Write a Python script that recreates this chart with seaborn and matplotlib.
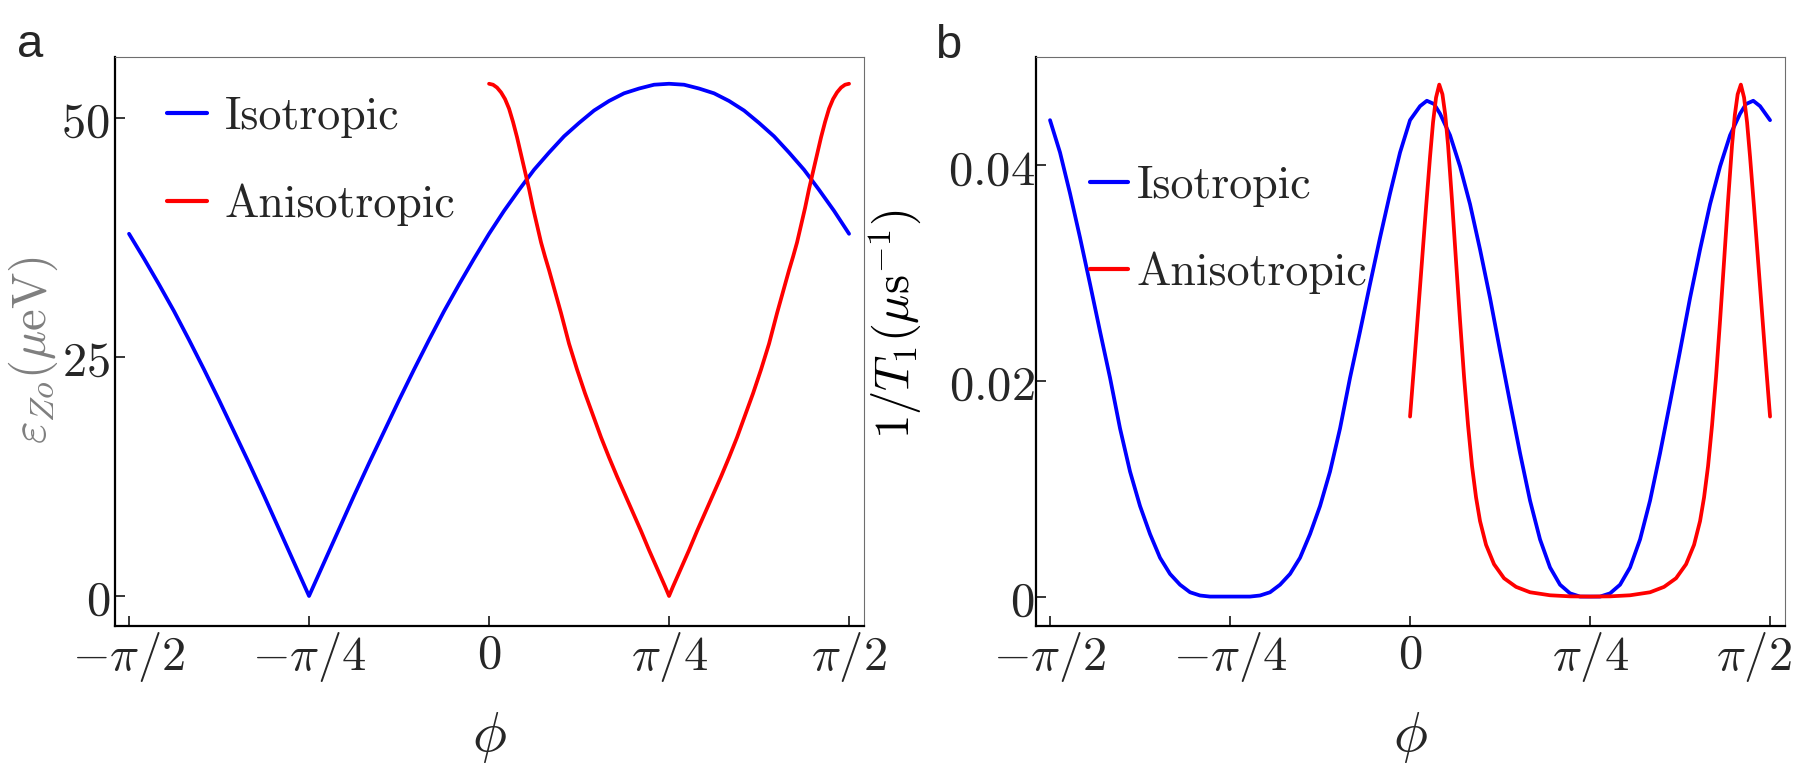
import numpy as np
import pandas as pd
import seaborn as sns
import matplotlib
matplotlib.use('Agg')
import matplotlib.pyplot as plt
from matplotlib.transforms import ScaledTranslation

# ---- data (phi in degrees) ----
# panel a: epsilon_Zo (ueV)
phi_a_iso = [-90, -86.25, -82.5, -78.75, -75, -71.25, -67.5, -63.75, -60, -56.25, -52.5, -48.75,
             -45, -41.25, -37.5, -33.75, -30, -26.25, -22.5, -18.75, -15, -11.25, -7.5, -3.75,
             0, 3.75, 7.5, 11.25, 15, 18.75, 22.5, 26.25, 30, 33.75, 37.5, 41.25,
             45, 48.75, 52.5, 56.25, 60, 63.75, 67.5, 71.25, 75, 78.75, 82.5, 86.25, 90]
eps_iso = [37.9, 35.3, 32.6, 29.8, 26.8, 23.7, 20.5, 17.2, 13.9, 10.5, 7.0, 3.5,
           0.0, 3.5, 7.0, 10.5, 13.9, 17.2, 20.5, 23.7, 26.8, 29.8, 32.6, 35.3,
           37.9, 40.3, 42.5, 44.6, 46.4, 48.1, 49.5, 50.8, 51.8, 52.6, 53.1, 53.5,
           53.6, 53.5, 53.1, 52.6, 51.8, 50.8, 49.5, 48.1, 46.4, 44.6, 42.5, 40.3, 37.9]
phi_a_aniso = [0, 1, 2, 3, 4, 5, 6, 7, 8, 9, 10, 11, 12, 13, 14, 15, 16, 18, 20, 22, 24, 26,
               28, 30, 32, 34, 36, 38, 40, 42, 44, 45,
               46, 48, 50, 52, 54, 56, 58, 60, 62, 64, 66, 68, 70, 72, 74, 75, 76, 77, 78, 79,
               80, 81, 82, 83, 84, 85, 86, 87, 88, 89, 90]
eps_aniso = [53.6, 53.5, 53.2, 52.7, 52.0, 51.0, 49.6, 48.0, 46.2, 44.4, 42.6, 40.6, 38.8,
             37.0, 35.5, 34.1, 32.6, 29.6, 26.4, 23.7, 21.2, 18.9, 16.6, 14.5, 12.5, 10.6,
             8.7, 6.8, 4.8, 2.9, 1.0, 0.0,
             1.0, 2.9, 4.8, 6.8, 8.7, 10.6, 12.5, 14.5, 16.6, 18.9, 21.2, 23.7, 26.4, 29.6,
             32.6, 34.1, 35.5, 37.0, 38.8, 40.6, 42.6, 44.4, 46.2, 48.0, 49.6, 51.0, 52.0,
             52.7, 53.2, 53.5, 53.6]

# panel b: 1/T1 (1/us)
phi_b_iso = [-90, -87.5, -85, -82.5, -80, -77.5, -75, -72.5, -70, -67.5, -65, -62.5, -60,
             -57.5, -55, -52.5, -50, -47.5, -45, -42.5, -40, -37.5, -35, -32.5, -30, -27.5,
             -25, -22.5, -20, -17.5, -15, -12.5, -10, -7.5, -5, -2.5,
             0, 2.5, 4.2, 6, 7.5, 10, 12.5, 15, 17.5, 20, 22.5, 25, 27.5, 30, 32.5, 35, 37.5,
             40, 42.5, 45, 47.5, 50, 52.5, 55, 57.5, 60, 62.5, 65, 67.5, 70, 72.5, 75, 77.5,
             80, 82.5, 84, 85.8, 87.5, 90]
rate_iso = [0.0442, 0.0412, 0.0374, 0.0333, 0.0290, 0.0246, 0.0203, 0.0156, 0.0116, 0.0084,
            0.0058, 0.0036, 0.0021, 0.0011, 0.0004, 0.0001, 0.0, 0.0, 0.0, 0.0, 0.0, 0.0001,
            0.0004, 0.0011, 0.0021, 0.0036, 0.0058, 0.0084, 0.0116, 0.0156, 0.0203, 0.0246,
            0.0290, 0.0333, 0.0374, 0.0412,
            0.0442, 0.0455, 0.0460, 0.0457, 0.0448, 0.0428, 0.0399, 0.0364, 0.0322, 0.0277,
            0.0228, 0.0180, 0.0133, 0.0089, 0.0053, 0.0027, 0.0011, 0.0003, 0.0, 0.0,
            0.0, 0.0003, 0.0011, 0.0027, 0.0053, 0.0089, 0.0133, 0.0180, 0.0228, 0.0277,
            0.0322, 0.0364, 0.0399, 0.0428, 0.0448, 0.0457, 0.0460, 0.0455, 0.0442]
phi_b_aniso = [0, 1, 2, 3, 4, 5, 5.75, 6.5, 7.3, 8.1, 8.8, 9.5, 10.5, 11.5, 12.5, 13.5, 14.5,
               15.5, 16.5, 17.5, 19, 21, 23.5, 26.5, 30, 35, 40, 45,
               50, 55, 60, 63.5, 66.5, 69, 71, 72.5, 73.5, 74.5, 75.5, 76.5, 77.5, 78.5, 79.5,
               80.5, 81.2, 81.9, 82.7, 83.5, 84.25, 85, 86, 87, 88, 89, 90]
rate_aniso = [0.0167, 0.0214, 0.0263, 0.0312, 0.0361, 0.0408, 0.0440, 0.0463, 0.0475, 0.0466,
              0.0447, 0.0419, 0.0367, 0.0311, 0.0256, 0.0204, 0.0159, 0.0121, 0.0092, 0.0070,
              0.0048, 0.0030, 0.0017, 0.0009, 0.0004, 0.00012, 0.00002, 0.0,
              0.00002, 0.00012, 0.0004, 0.0009, 0.0017, 0.0030, 0.0048, 0.0070, 0.0092,
              0.0121, 0.0159, 0.0204, 0.0256, 0.0311, 0.0367, 0.0419, 0.0447, 0.0466, 0.0475,
              0.0463, 0.0440, 0.0408, 0.0361, 0.0312, 0.0263, 0.0214, 0.0167]

labels = ['Isotropic', 'Anisotropic']
colors = {'Isotropic': '#0000ff', 'Anisotropic': '#ff0000'}
x_ticks = [-np.pi / 2, -np.pi / 4, 0, np.pi / 4, np.pi / 2]
x_ticklabels = [r'$-\pi/2$', r'$-\pi/4$', r'$0$', r'$\pi/4$', r'$\pi/2$']
a_yticks = [0, 25, 50]
a_yticklabels = [r'$0$', r'$25$', r'$50$']
b_yticks = [0, 0.02, 0.04]
b_yticklabels = [r'$0$', r'$0.02$', r'$0.04$']


def make_df(phi_iso, y_iso, phi_an, y_an):
    d1 = pd.DataFrame({'phi': np.deg2rad(phi_iso), 'value': y_iso, 'model': labels[0]})
    d2 = pd.DataFrame({'phi': np.deg2rad(phi_an), 'value': y_an, 'model': labels[1]})
    return pd.concat([d1, d2], ignore_index=True)


sns.set_style('white')
plt.rcParams['mathtext.fontset'] = 'cm'
plt.rcParams['font.family'] = ['DejaVu Sans']

fig = plt.figure(figsize=(18.03, 7.69), dpi=100)
W, H = 1803, 769
ax_a = fig.add_axes([115 / W, 1 - 626 / H, 749 / W, 569 / H])
ax_b = fig.add_axes([1036 / W, 1 - 626 / H, 749 / W, 569 / H])

df_a = make_df(phi_a_iso, eps_iso, phi_a_aniso, eps_aniso)
df_b = make_df(phi_b_iso, rate_iso, phi_b_aniso, rate_aniso)

for ax, df in [(ax_a, df_a), (ax_b, df_b)]:
    sns.lineplot(data=df, x='phi', y='value', hue='model', hue_order=labels,
                 palette=colors, estimator=None, sort=False, lw=2.7, ax=ax)
    for line in ax.lines:
        line.set_solid_joinstyle('round')
    ax.set_xlim(-1.632, 1.636)
    ax.set_xticks(x_ticks)
    ax.set_xticklabels(x_ticklabels)
    ax.tick_params(axis='both', which='major', direction='in', length=7.2, width=1.1,
                   color='black', labelsize=35, bottom=True, left=True)
    ax.tick_params(axis='x', pad=3)
    for side in ['left', 'bottom']:
        ax.spines[side].set_color('black')
        ax.spines[side].set_linewidth(1.6)
    for side in ['top', 'right']:
        ax.spines[side].set_color('#6e6e6e')
        ax.spines[side].set_linewidth(0.8)
    ax.set_xlabel(r'$\phi$', fontsize=41)
    ax.xaxis.set_label_coords(0.5, -0.148)

ax_a.set_ylim(-3.14, 56.4)
ax_a.set_yticks(a_yticks)
ax_a.set_yticklabels(a_yticklabels)
ax_a.tick_params(axis='y', pad=3.5)
ax_a.set_ylabel(r'$\varepsilon_{Zo}(\mu\mathrm{eV})$', fontsize=35, color='#7f7f7f')
ax_a.yaxis.set_label_coords(-0.073, 0.485)

ax_b.set_ylim(-0.00273, 0.05006)
ax_b.set_yticks(b_yticks)
ax_b.set_yticklabels(b_yticklabels)
ax_b.tick_params(axis='y', pad=1)
ax_b.set_ylabel(r'$1/T_1(\mu\mathrm{s}^{-1})$', fontsize=35, color='black')
ax_b.yaxis.set_label_coords(-0.151, 0.53)

# the last tick label on panel b sits a bit left of its tick (as in the original)
last = ax_b.get_xticklabels()[-1]
last.set_transform(last.get_transform() + ScaledTranslation(-0.16, 0, fig.dpi_scale_trans))

leg_font = {'family': 'cmr10', 'size': 33}
sns.move_legend(ax_a, 'upper left', bbox_to_anchor=(0.069, 0.93), frameon=False, title=None,
                prop=leg_font, handlelength=0.87, handletextpad=0.39, labelspacing=0.98,
                borderpad=0, borderaxespad=0)
sns.move_legend(ax_b, 'upper left', bbox_to_anchor=(0.072, 0.81), frameon=False, title=None,
                prop=leg_font, handlelength=0.82, handletextpad=0.2, labelspacing=0.98,
                borderpad=0, borderaxespad=0)
for ax in [ax_a, ax_b]:
    for line in ax.get_legend().get_lines():
        line.set_linewidth(3)

fig.text(17 / W, 1 - 57 / H, 'a', fontsize=34, family='Liberation Sans', va='baseline')
fig.text(935 / W, 1 - 58 / H, 'b', fontsize=34, family='Liberation Sans', va='baseline')

fig.savefig('out.png', dpi=100)
